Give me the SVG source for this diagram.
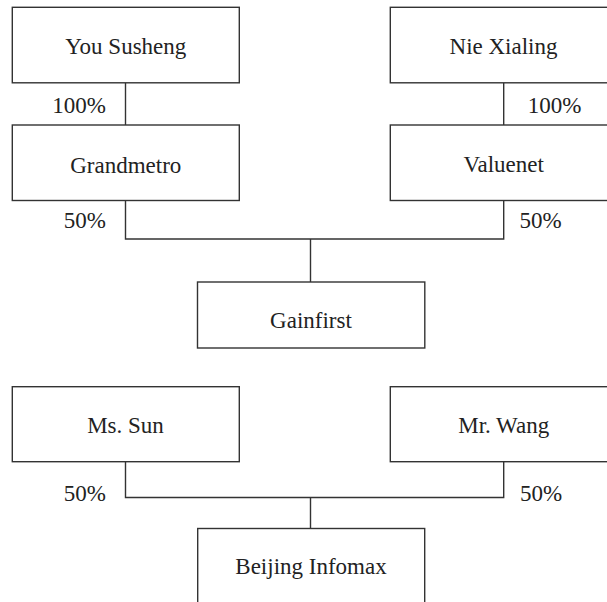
<svg xmlns="http://www.w3.org/2000/svg" width="607" height="602" viewBox="0 0 607 602">
<style>
.box{fill:#fff;stroke:#333;stroke-width:1.4}
.ln{fill:none;stroke:#333;stroke-width:1.4}
text{font-size:23px;fill:#222}
.c{text-anchor:middle}
.e{text-anchor:end}
</style>
<rect width="607" height="602" fill="#fff"/>
<g font-family="'Liberation Serif', Tinos, 'DejaVu Serif', serif">
<g id="connectors">
<path class="ln" d="M125.5 83V125"/>
<path class="ln" d="M503.7 83V125"/>
<path class="ln" d="M125.5 200.5V239H503.7V200.5"/>
<path class="ln" d="M310.5 239V282"/>
<path class="ln" d="M125.5 462V497.5H503.7V462"/>
<path class="ln" d="M310.5 497.5V528.5"/>
<text class="e" x="106" y="112.7">100%</text>
<text x="527.7" y="112.7">100%</text>
<text class="e" x="106" y="228">50%</text>
<text x="519.5" y="228">50%</text>
<text class="e" x="106" y="501">50%</text>
<text x="520" y="501">50%</text>
</g>
<g id="you-susheng"><rect class="box" x="12.3" y="7.3" width="227" height="75.5"/><text class="c" x="125.8" y="54.3">You Susheng</text></g>
<g id="nie-xialing"><rect class="box" x="390.3" y="7.3" width="240" height="75.5"/><text class="c" x="503.5" y="54.3">Nie Xialing</text></g>
<g id="grandmetro"><rect class="box" x="12.3" y="125" width="227" height="75.5"/><text class="c" x="125.8" y="172.5">Grandmetro</text></g>
<g id="valuenet"><rect class="box" x="390.3" y="125" width="240" height="75.5"/><text class="c" x="503.7" y="172">Valuenet</text></g>
<g id="gainfirst"><rect class="box" x="197.5" y="282" width="227.3" height="66"/><text class="c" x="311" y="327.7">Gainfirst</text></g>
<g id="ms-sun"><rect class="box" x="12.3" y="386.7" width="227" height="75"/><text class="c" x="125.5" y="433">Ms. Sun</text></g>
<g id="mr-wang"><rect class="box" x="390.3" y="386.7" width="240" height="75"/><text class="c" x="503.7" y="433.3">Mr. Wang</text></g>
<g id="beijing-infomax"><rect class="box" x="197.7" y="528.5" width="227" height="90"/><text class="c" x="311" y="574.3">Beijing Infomax</text></g>
</g>
</svg>
